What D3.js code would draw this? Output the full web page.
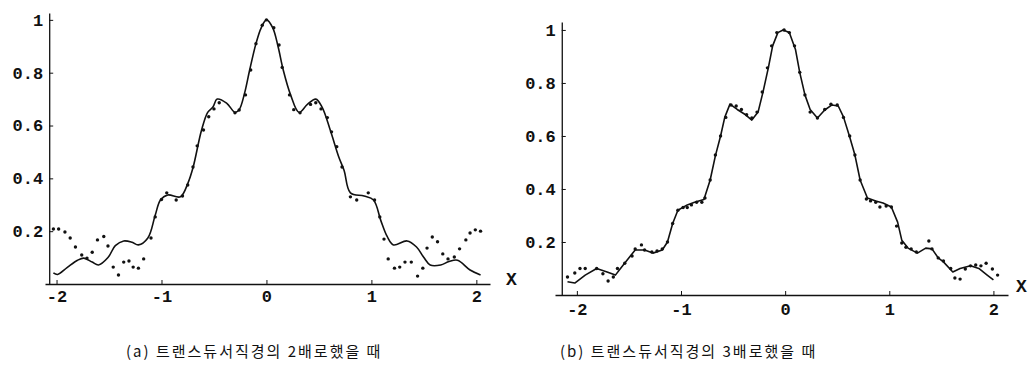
<!DOCTYPE html>
<html>
<head>
<meta charset="utf-8">
<script src="https://cdn.jsdelivr.net/npm/d3@7/dist/d3.min.js"></script>
<style>
  html, body { margin: 0; padding: 0; background: #fff; }
  svg { display: block; }
  .tick text { font-family: "Liberation Mono", "DejaVu Sans Mono", monospace; font-weight: bold; font-size: 17px; fill: #111; }
  .caption { font-family: "Noto Sans CJK KR", sans-serif; font-size: 15px; letter-spacing: 2px; fill: #111; }
  .xlab { font-family: "Liberation Mono", monospace; font-weight: bold; font-size: 18px; fill: #111; }
</style>
</head>
<body>
<svg id="chart" width="1035" height="370"></svg>
<script>
// Tick labels shared by both panels
const xTicks = [-2, -1, 0, 1, 2];
const yTicks = [0.2, 0.4, 0.6, 0.8, 1];

// (a) theory curve: [x, normalised amplitude]
const curveA = [
  [-2.03,0.042],[-1.99,0.036],[-1.90,0.062],[-1.80,0.090],[-1.74,0.098],[-1.66,0.083],
  [-1.60,0.072],[-1.51,0.100],[-1.44,0.145],[-1.36,0.163],[-1.28,0.158],[-1.22,0.148],
  [-1.13,0.174],[-1.06,0.260],[-1.01,0.318],[-0.94,0.337],[-0.82,0.330],[-0.75,0.380],
  [-0.70,0.440],[-0.62,0.580],[-0.56,0.650],[-0.51,0.670],[-0.47,0.700],[-0.38,0.685],
  [-0.30,0.650],[-0.26,0.660],[-0.21,0.720],[-0.16,0.810],[-0.10,0.910],[-0.05,0.970],
  [0.00,1.000],[0.06,0.970],[0.11,0.900],[0.16,0.810],[0.23,0.716],[0.31,0.650],
  [0.39,0.680],[0.47,0.700],[0.53,0.670],[0.61,0.580],[0.69,0.480],[0.74,0.430],
  [0.80,0.345],[0.93,0.333],[1.02,0.318],[1.09,0.240],[1.15,0.180],[1.21,0.148],
  [1.34,0.163],[1.43,0.140],[1.50,0.100],[1.56,0.072],[1.66,0.072],[1.74,0.085],
  [1.82,0.090],[1.94,0.053],[2.04,0.034]
];

// (a) measured points
const pointsA = [
  [-2.03,0.208],[-1.98,0.208],[-1.92,0.197],[-1.87,0.174],[-1.82,0.140],[-1.76,0.110],
  [-1.71,0.098],[-1.66,0.120],[-1.61,0.167],[-1.55,0.180],[-1.51,0.144],[-1.46,0.064],
  [-1.41,0.034],[-1.36,0.083],[-1.31,0.087],[-1.27,0.064],[-1.22,0.060],[-1.17,0.095],
  [-1.10,0.174],[-1.06,0.254],[-1.00,0.320],[-0.95,0.345],[-0.86,0.318],[-0.80,0.333],
  [-0.75,0.375],[-0.70,0.443],[-0.66,0.523],[-0.60,0.583],[-0.55,0.633],[-0.50,0.663],
  [-0.45,0.686],[-0.30,0.648],[-0.26,0.659],[-0.20,0.716],[-0.15,0.810],[-0.10,0.910],
  [-0.04,0.980],[0.00,1.000],[0.07,0.970],[0.12,0.905],[0.15,0.820],[0.22,0.716],
  [0.26,0.660],[0.32,0.648],[0.42,0.680],[0.47,0.686],[0.52,0.663],[0.58,0.630],
  [0.62,0.576],[0.67,0.520],[0.72,0.443],[0.80,0.330],[0.86,0.318],[0.97,0.345],
  [1.03,0.318],[1.08,0.254],[1.12,0.170],[1.16,0.095],[1.22,0.060],[1.27,0.064],
  [1.32,0.083],[1.38,0.083],[1.44,0.030],[1.49,0.060],[1.53,0.136],[1.58,0.178],
  [1.63,0.160],[1.68,0.114],[1.73,0.095],[1.79,0.102],[1.84,0.133],[1.90,0.167],
  [1.94,0.193],[1.99,0.205],[2.04,0.200]
];

// (b) theory curve
const curveB = [
  [-2.09,0.050],[-2.02,0.045],[-1.92,0.075],[-1.81,0.100],[-1.71,0.087],[-1.63,0.075],
  [-1.57,0.106],[-1.44,0.170],[-1.35,0.170],[-1.27,0.158],[-1.18,0.170],[-1.13,0.200],
  [-1.08,0.270],[-1.03,0.320],[-0.94,0.340],[-0.87,0.350],[-0.78,0.360],[-0.72,0.434],
  [-0.67,0.525],[-0.62,0.600],[-0.58,0.670],[-0.53,0.720],[-0.46,0.700],[-0.38,0.680],
  [-0.32,0.660],[-0.26,0.690],[-0.21,0.770],[-0.16,0.860],[-0.12,0.940],[-0.07,0.990],
  [-0.02,1.000],[0.04,0.990],[0.10,0.925],[0.14,0.840],[0.19,0.755],[0.24,0.700],
  [0.31,0.668],[0.38,0.698],[0.45,0.717],[0.51,0.713],[0.56,0.672],[0.62,0.596],
  [0.67,0.528],[0.72,0.434],[0.79,0.366],[0.87,0.355],[0.94,0.347],[1.02,0.332],
  [1.08,0.275],[1.12,0.207],[1.18,0.177],[1.27,0.158],[1.35,0.177],[1.41,0.174],
  [1.47,0.140],[1.52,0.125],[1.61,0.087],[1.68,0.100],[1.78,0.110],[1.86,0.100],
  [1.94,0.075],[2.00,0.057]
];

// (b) measured points
const pointsB = [
  [-2.09,0.068],[-2.02,0.083],[-1.97,0.100],[-1.92,0.100],[-1.81,0.100],[-1.75,0.080],
  [-1.70,0.053],[-1.65,0.068],[-1.61,0.100],[-1.54,0.120],[-1.47,0.147],[-1.44,0.174],
  [-1.38,0.189],[-1.35,0.170],[-1.28,0.162],[-1.23,0.166],[-1.18,0.174],[-1.13,0.200],
  [-1.08,0.270],[-1.03,0.320],[-0.98,0.330],[-0.94,0.330],[-0.90,0.340],[-0.85,0.350],
  [-0.80,0.350],[-0.77,0.366],[-0.72,0.434],[-0.67,0.528],[-0.62,0.600],[-0.57,0.670],
  [-0.52,0.717],[-0.47,0.713],[-0.42,0.700],[-0.37,0.680],[-0.32,0.668],[-0.27,0.690],
  [-0.22,0.766],[-0.17,0.857],[-0.13,0.940],[-0.08,0.990],[-0.01,1.000],[0.04,0.990],
  [0.09,0.940],[0.14,0.840],[0.19,0.755],[0.24,0.690],[0.31,0.668],[0.38,0.700],
  [0.44,0.720],[0.50,0.717],[0.56,0.670],[0.62,0.600],[0.67,0.528],[0.72,0.434],
  [0.78,0.362],[0.82,0.355],[0.87,0.350],[0.91,0.332],[0.97,0.336],[1.02,0.332],
  [1.07,0.260],[1.12,0.196],[1.16,0.180],[1.21,0.174],[1.26,0.162],[1.38,0.204],
  [1.41,0.174],[1.47,0.140],[1.52,0.128],[1.59,0.100],[1.63,0.064],[1.68,0.060],
  [1.73,0.098],[1.78,0.110],[1.83,0.113],[1.88,0.110],[1.93,0.120],[1.99,0.098],
  [2.04,0.075]
];

const captionA = "(a) 트랜스듀서직경의 2배로했을 때";
const captionB = "(b) 트랜스듀서직경의 3배로했을 때";

const svg = d3.select("#chart");

function panel(cfg) {
  const x = d3.scaleLinear().domain(cfg.xDomain).range(cfg.xRange);
  const y = d3.scaleLinear().domain(cfg.yDomain).range(cfg.yRange);
  const g = svg.append("g");
  const originX = x(cfg.yAxisAt);

  // horizontal axis with inward ticks
  const xAxis = d3.axisBottom(x).tickValues(xTicks).tickFormat(d3.format("d"))
    .tickSizeInner(-4).tickSizeOuter(0).tickPadding(cfg.xPad);
  const gx = g.append("g").attr("transform", `translate(0,${y(0)})`).call(xAxis);
  gx.selectAll("line").attr("stroke", "#111");
  gx.select(".domain").attr("stroke", "#111").attr("stroke-width", 1.3);
  gx.selectAll("text").text(d => d < 0 ? "-" + Math.abs(d) : d);

  // vertical axis
  const yAxis = d3.axisLeft(y).tickValues(yTicks).tickFormat(d => d === 1 ? "1" : d3.format(".1f")(d))
    .tickSizeInner(-4).tickSizeOuter(0).tickPadding(6);
  const gy = g.append("g").attr("transform", `translate(${originX},0)`).call(yAxis);
  gy.selectAll("line").attr("stroke", "#111");
  gy.select(".domain").attr("stroke", "#111").attr("stroke-width", 1.3);

  // theory curve
  const line = d3.line().x(d => x(d[0])).y(d => y(d[1])).curve(cfg.curve);
  g.append("path").datum(cfg.line).attr("d", line)
    .attr("fill", "none").attr("stroke", "#111").attr("stroke-width", 1.6)
    .attr("stroke-linejoin", "round");

  // measured points
  g.append("g").selectAll("circle").data(cfg.points).join("circle")
    .attr("cx", d => x(d[0])).attr("cy", d => y(d[1])).attr("r", 1.7).attr("fill", "#111");

  // axis name
  g.append("text").attr("class", "xlab").attr("x", cfg.xLabel[0]).attr("y", cfg.xLabel[1]).text("X");

  // caption
  g.append("text").attr("class", "caption").attr("x", cfg.caption[0]).attr("y", cfg.caption[1]).text(cfg.text);
}

panel({
  xDomain: [-2.11, 2.13], xRange: [45, 490],
  yDomain: [0, 1.026], yRange: [284, 13],
  yAxisAt: -2.07, xPad: 6,
  line: curveA, points: pointsA, curve: d3.curveCatmullRom,
  xLabel: [506, 285], caption: [126, 357], text: captionA
});

panel({
  xDomain: [-2.21, 2.14], xRange: [555, 1008],
  yDomain: [0, 1.03], yRange: [295, 22],
  yAxisAt: -2.145, xPad: 8,
  line: curveB, points: pointsB, curve: d3.curveLinear,
  xLabel: [1016, 292], caption: [560, 357], text: captionB
});
</script>
</body>
</html>
